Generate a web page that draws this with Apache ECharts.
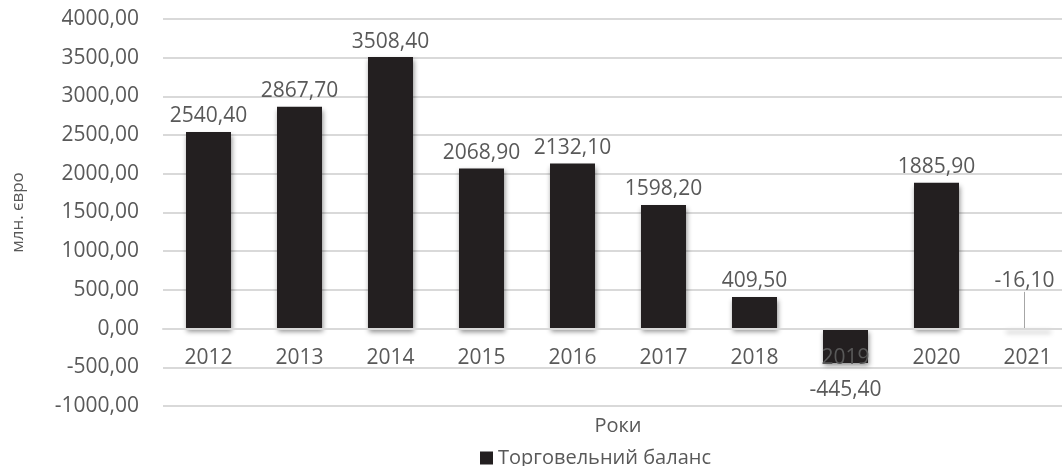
<!DOCTYPE html>
<html>
<head>
<meta charset="utf-8">
<script src="https://cdn.jsdelivr.net/npm/echarts@6/dist/echarts.min.js"></script>
<style>
  html, body { margin: 0; padding: 0; background: #fff; }
  #chart { width: 1062px; height: 466px; }
</style>
</head>
<body>
<div id="chart"></div>
<script>
const years = ["2012", "2013", "2014", "2015", "2016", "2017", "2018", "2019", "2020", "2021"];
const balance = [2540.4, 2867.7, 3508.4, 2068.9, 2132.1, 1598.2, 409.5, -445.4, 1885.9, -16.1];
const seriesName = "Торговельний баланс";
const yName = "млн. євро";
const xName = "Роки";

const textColor = "#595959";
const gridColor = "#d9d9d9";
const font = "'Open Sans', sans-serif";

const gridTop = 19;
const gridBottom = 60;
const plotHeight = 466 - gridTop - gridBottom;
const yMin = -1000;
const yMax = 4000;
// lift the category axis from the grid bottom up to the zero line
const zeroOffset = -plotHeight * (0 - yMin) / (yMax - yMin);

function fmt(v) {
  return Number(v).toFixed(2).replace(".", ",");
}

const seriesData = balance.map((v, i) => {
  if (i === 7) return { value: v, label: { distance: 16 } };
  if (i === 9) return { value: v, labelLine: { show: true } };
  return v;
});

const chart = echarts.init(document.getElementById("chart"));
chart.setOption({
  animation: false,
  textStyle: { fontFamily: font },
  grid: { show: false, left: 163, top: gridTop, width: 910, bottom: gridBottom, containLabel: false, outerBoundsMode: "none" },
  legend: {
    data: [seriesName],
    left: 475,
    top: 443,
    itemWidth: 13,
    itemHeight: 13,
    icon: "rect",
    textStyle: { color: textColor, fontSize: 20, fontFamily: font },
  },
  xAxis: {
    type: "category",
    data: years,
    z: 3,
    position: "bottom",
    offset: zeroOffset,
    name: xName,
    nameLocation: "middle",
    nameGap: 88,
    nameTextStyle: { color: textColor, fontSize: 20, fontFamily: font },
    axisLine: { onZero: false, lineStyle: { color: gridColor, width: 2 } },
    axisTick: { show: false },
    splitLine: { show: false },
    axisLabel: { color: textColor, fontSize: 21, margin: 19, fontFamily: font },
  },
  yAxis: {
    type: "value",
    min: yMin,
    max: yMax,
    interval: 500,
    name: yName,
    nameLocation: "middle",
    nameRotate: 90,
    nameGap: 136,
    nameTextStyle: { color: textColor, fontSize: 17, fontFamily: font },
    axisLine: { show: false, onZero: false },
    axisTick: { show: false },
    axisLabel: { color: textColor, fontSize: 21, margin: 24, formatter: fmt, fontFamily: font },
    splitLine: { lineStyle: { color: gridColor, width: 2 } },
  },
  series: [
    {
      name: seriesName,
      type: "bar",
      data: seriesData,
      barWidth: 45,
      itemStyle: {
        color: "#231f20",
        shadowColor: "rgba(0,0,0,0.45)",
        shadowBlur: 5,
        shadowOffsetX: 1,
        shadowOffsetY: 3,
      },
      label: {
        show: true,
        position: "outside",
        distance: 5,
        color: textColor,
        fontSize: 21,
        fontFamily: font,
        formatter: (p) => fmt(p.value),
      },
      labelLine: { show: false, lineStyle: { color: "#a6a6a6", width: 1 } },
      labelLayout: (p) => (p.dataIndex === 9 ? { dy: -64, dx: -3 } : {}),
    },
  ],
});
</script>
</body>
</html>
